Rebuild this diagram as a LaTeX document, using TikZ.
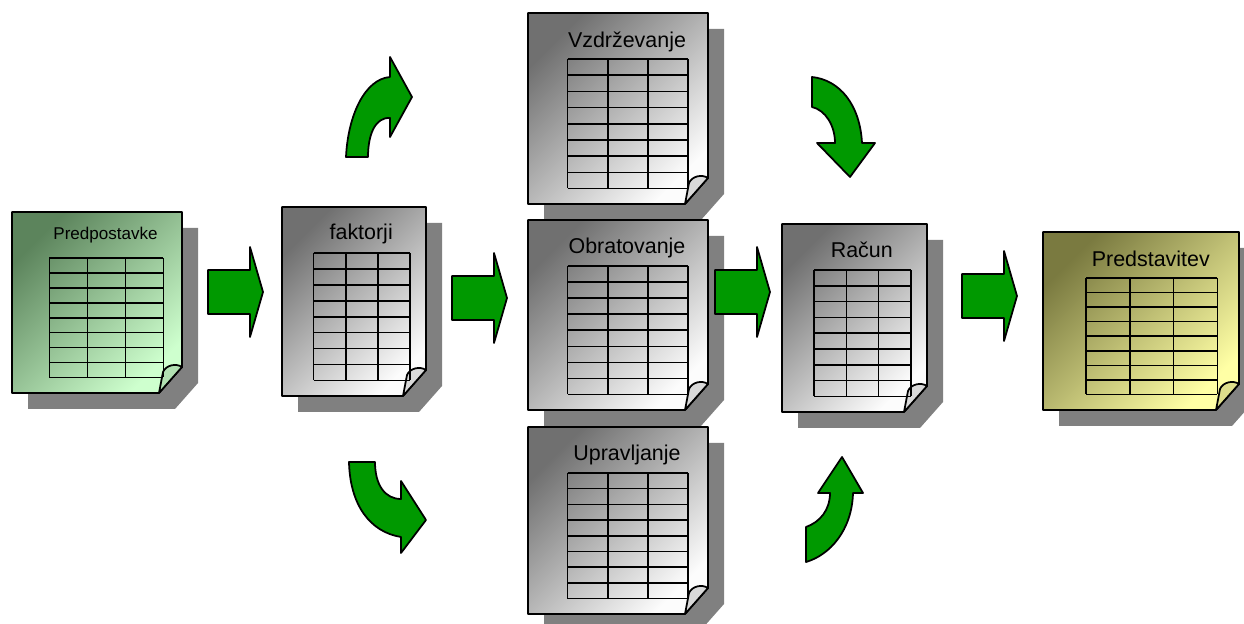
\documentclass[tikz,border=0pt]{standalone}
\usepackage{fontspec}
\setmainfont{Liberation Sans}
\usepackage{tikz}
\usetikzlibrary{calc}
\definecolor{zelenaD}{RGB}{92,132,92}
\definecolor{zelenaS}{RGB}{206,255,206}
\definecolor{sivaD}{RGB}{112,112,112}
\definecolor{sivaS}{RGB}{252,252,252}
\definecolor{rumenaD}{RGB}{122,122,64}
\definecolor{rumenaS}{RGB}{255,255,165}
\definecolor{zelenapuscica}{RGB}{0,153,0}
\definecolor{sivasenca}{RGB}{128,128,128}

% stran z razpredelnico: ime, levo, zgoraj, desno, spodaj, barva, naslov, odmik naslova
\newcommand{\stran}[8]{%
  \fill[senca] (#2+16,#3+16) -- (#4+16,#3+16) -- (#4+16,#5-10) -- (#4-7,#5+16) -- (#2+16,#5+16) -- cycle;
  \draw[rob, top color=#6D, bottom color=#6S, shading angle=45]
    (#2,#3) -- (#4,#3) -- (#4,#5-26) -- (#4-23,#5) -- (#2,#5) -- cycle;
  \filldraw[rob, fill=#6S!75!#6D] (#4-23,#5) -- (#4-19,#5-21)
    .. controls (#4-16,#5-28) and (#4-6,#5-30) .. (#4,#5-26) -- cycle;
  \pgfmathsetmacro\tabL{#2+0.22*(#4-#2)}
  \pgfmathsetmacro\tabD{#4-0.11*(#4-#2)}
  \pgfmathsetmacro\tabG{#3+46}
  \pgfmathsetmacro\tabS{#5-15.5}
  \foreach \i in {0,...,8}
    \draw[mreza] (\tabL,{\tabG+\i*(\tabS-\tabG)/8}) -- (\tabD,{\tabG+\i*(\tabS-\tabG)/8});
  \foreach \j in {0,...,3}
    \draw[mreza] ({\tabL+\j*(\tabD-\tabL)/3},\tabG) -- ({\tabL+\j*(\tabD-\tabL)/3},\tabS);
  \node[naslov] (#1) at ({#2+0.55*(#4-#2)},#3+#8) {#7};
}
% ravna puscica: levi rob, sredina
\newcommand{\ravna}[2]{%
  \filldraw[puscica] (#1,#2-22) -- (#1+42,#2-22) -- (#1+42,#2-45) -- (#1+55,#2)
    -- (#1+42,#2+45) -- (#1+42,#2+22) -- (#1,#2+22) -- cycle;
}

\begin{document}
\begin{tikzpicture}[x=0.02cm, y=-0.02cm,
    senca/.style={fill=sivasenca},
    rob/.style={draw=black, line width=1pt, line join=round},
    mreza/.style={draw=black, line width=0.9pt},
    naslov/.style={anchor=base, inner sep=0, font=\fontsize{12.2}{14}\selectfont},
    puscica/.style={fill=zelenapuscica, draw=black, line width=1pt, line join=round}]
  \useasboundingbox (0,0) rectangle (1244,624);

  \stran{predpostavke}{12}{212}{182}{393}{zelena}{\fontsize{9.7}{12}\selectfont Predpostavke}{28}
  \stran{faktorji}{282}{207}{426}{396}{siva}{faktorji}{33}
  \stran{vzdrzevanje}{528}{13}{708}{204}{siva}{Vzdrževanje}{35}
  \stran{obratovanje}{528}{220}{708}{410}{siva}{Obratovanje}{34}
  \stran{upravljanje}{528}{427}{708}{614}{siva}{Upravljanje}{34}
  \stran{racun}{782}{224}{927}{412}{siva}{Račun}{34}
  \stran{predstavitev}{1043}{232}{1239}{410}{rumena}{Predstavitev}{35}

  \ravna{208}{292}
  \ravna{452}{298}
  \ravna{715}{292}
  \ravna{962}{296}

  % ukrivljene puscice
  \filldraw[puscica] (346,157) .. controls (348,115) and (365,79) .. (390,77)
    -- (390,57) -- (412,97) -- (390,137) -- (390,118)
    .. controls (375,117) and (368,135) .. (368,157) -- cycle;
  \filldraw[puscica] (349,462) -- (375,462) .. controls (375,485) and (385,499) .. (401,499)
    -- (401,481) -- (426,520) -- (401,553) -- (401,537)
    .. controls (370,532) and (350,505) .. (349,462) -- cycle;
  \filldraw[puscica] (812,77) -- (812,107) .. controls (825,110) and (835,125) .. (835,143)
    -- (817,143) -- (850,177) -- (875,143) -- (862,143)
    .. controls (860,105) and (840,80) .. (812,77) -- cycle;
  \filldraw[puscica] (806,562) -- (806,527) .. controls (820,522) and (830,510) .. (830,493)
    -- (818,493) -- (842,457) -- (863,493) -- (853,493)
    .. controls (852,530) and (830,555) .. (806,562) -- cycle;
\end{tikzpicture}
\end{document}
